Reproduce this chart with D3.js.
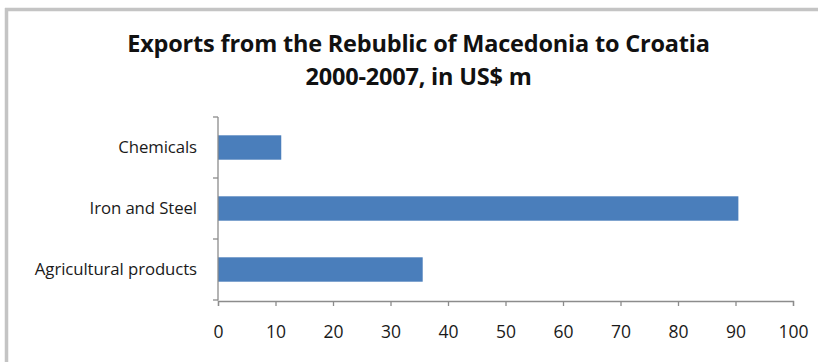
<!DOCTYPE html>
<html>
<head>
<meta charset="utf-8">
<script src="https://cdn.jsdelivr.net/npm/d3@7"></script>
<style>
  html, body { margin: 0; padding: 0; background: #fff; }
  svg { display: block; }
</style>
</head>
<body>
<svg id="chart" width="818" height="362"></svg>
<script>
const categories = ["Chemicals", "Iron and Steel", "Agricultural products"];
const values = [11, 90.5, 35.6];
const xTicks = [0, 10, 20, 30, 40, 50, 60, 70, 80, 90, 100];
const titleLines = ["Exports from the Rebublic of Macedonia to Croatia", "2000-2007, in US$ m"];

const svg = d3.select("#chart");
const W = 818, H = 362;
const FONT = "'Open Sans', Lato, sans-serif";

// frame (top and left border)
svg.append("rect").attr("x", 0).attr("y", 0).attr("width", W).attr("height", H).attr("fill", "#fff");
svg.append("line").attr("x1", 6.5).attr("x2", 6.5).attr("y1", 8).attr("y2", H)
  .attr("stroke", "#c4c4c4").attr("stroke-width", 3.5);
svg.append("line").attr("x1", 5).attr("x2", W).attr("y1", 9.5).attr("y2", 9.5)
  .attr("stroke", "#c4c4c4").attr("stroke-width", 3.5);

const x = d3.scaleLinear().domain([0, 100]).range([218, 793]);
const y = d3.scaleBand().domain(categories).range([117, 300]).paddingInner(0.6).paddingOuter(0.3);

// title
const title = svg.append("text").attr("text-anchor", "middle")
  .attr("font-family", FONT).attr("font-weight", 700).attr("font-size", 23.5).attr("fill", "#111")
  .attr("letter-spacing", -0.2);
title.selectAll("tspan").data(titleLines).join("tspan")
  .attr("x", 418.5).attr("y", (d, i) => 52 + i * 33).text(d => d);

// bars
svg.append("g").selectAll("rect").data(values).join("rect")
  .attr("x", x(0))
  .attr("y", (d, i) => y(categories[i]))
  .attr("width", d => x(d) - x(0))
  .attr("height", y.bandwidth())
  .attr("fill", "#4a7ebb");

const axisColor = "#8c8c8c";
// x axis
const xAxis = svg.append("g").attr("transform", "translate(0,301)")
  .call(d3.axisBottom(x).tickValues(xTicks).tickSize(5).tickPadding(20).tickFormat(d3.format("d")));
xAxis.select(".domain").attr("stroke", axisColor).attr("stroke-width", 1.3);
xAxis.selectAll(".tick line").attr("stroke", axisColor).attr("stroke-width", 1.3);
xAxis.selectAll(".tick text").attr("font-family", FONT).attr("font-size", 17.5).attr("fill", "#1a1a1a");

// y axis (category boundaries as ticks)
const yAxisG = svg.append("g");
const [y0, y1] = y.range();
yAxisG.append("line").attr("x1", x(0)).attr("x2", x(0)).attr("y1", y0).attr("y2", y1 + 0.6)
  .attr("stroke", axisColor).attr("stroke-width", 1.3);
const boundaries = d3.range(categories.length + 1).map(i => y0 + i * y.step());
yAxisG.selectAll("line.tk").data(boundaries).join("line").attr("class", "tk")
  .attr("x1", x(0) - 5).attr("x2", x(0)).attr("y1", d => d).attr("y2", d => d)
  .attr("stroke", axisColor).attr("stroke-width", 1.3);
yAxisG.selectAll("text").data(categories).join("text")
  .attr("x", 197).attr("y", d => y(d) + y.bandwidth() / 2)
  .attr("dy", "0.35em").attr("text-anchor", "end")
  .attr("font-family", FONT).attr("font-size", 16.8).attr("fill", "#1a1a1a")
  .attr("letter-spacing", -0.1)
  .text(d => d);
</script>
</body>
</html>
